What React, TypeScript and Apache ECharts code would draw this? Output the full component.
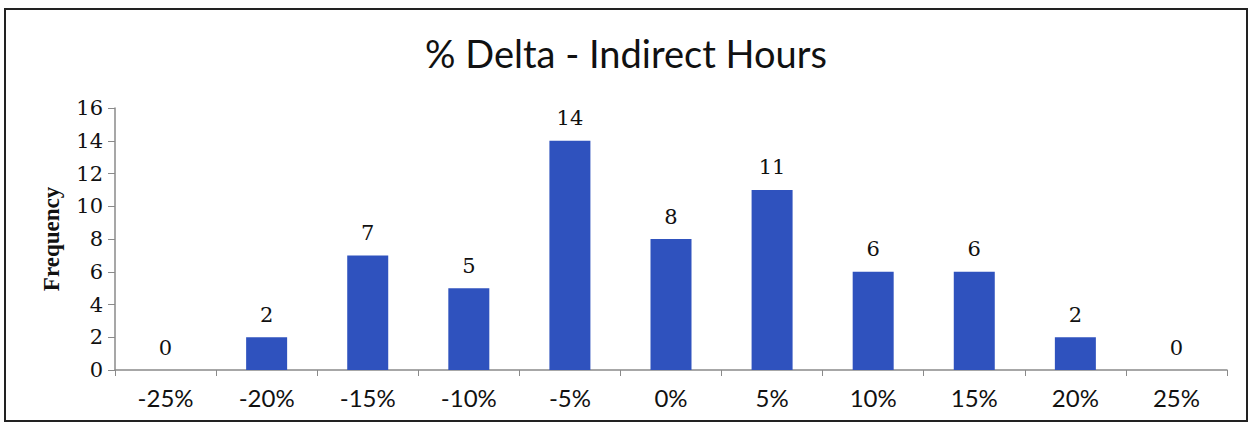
import React, { useEffect, useRef } from "react";
import * as echarts from "echarts";

const categories = ["-25%", "-20%", "-15%", "-10%", "-5%", "0%", "5%", "10%", "15%", "20%", "25%"];
const frequency = [0, 2, 7, 5, 14, 8, 11, 6, 6, 2, 0];
const titleText = "% Delta - Indirect Hours";
const yAxisName = "Frequency";

export default function App() {
  const ref = useRef<HTMLDivElement>(null);
  useEffect(() => {
    if (!ref.current) return;
    const chart = echarts.init(ref.current, null, { renderer: "svg" });
    chart.setOption({
      animation: false,
      backgroundColor: "#ffffff",
      title: {
        text: titleText,
        left: "center",
        top: 29,
        textStyle: { fontFamily: "Lato", fontSize: 38, fontWeight: "normal", color: "#111" },
      },
      graphic: [
        {
          type: "rect",
          shape: { x: 5, y: 9, width: 1242, height: 412 },
          style: { fill: "none", stroke: "#222", lineWidth: 2 },
          silent: true,
        },
      ],
      grid: { left: 115, right: 25, top: 108, bottom: 56 },
      xAxis: {
        type: "category",
        data: categories,
        boundaryGap: true,
        axisLine: { lineStyle: { color: "#8a8a8a", width: 1.5 } },
        axisTick: { show: true, alignWithLabel: false, length: 6, lineStyle: { color: "#8a8a8a" } },
        axisLabel: { fontFamily: "Lato", fontSize: 24, color: "#111", margin: 15 },
      },
      yAxis: {
        type: "value",
        min: 0,
        max: 16,
        interval: 2,
        name: yAxisName,
        nameLocation: "middle",
        nameGap: 52,
        nameTextStyle: { fontFamily: "Liberation Serif", fontWeight: "bold", fontSize: 23, color: "#111" },
        axisLine: { show: true, lineStyle: { color: "#8a8a8a", width: 1.5 } },
        axisTick: { show: true, length: 7, lineStyle: { color: "#8a8a8a" } },
        splitLine: { show: false },
        axisLabel: { fontFamily: "DejaVu Serif", fontSize: 21, color: "#111", margin: 12 },
      },
      series: [
        {
          type: "bar",
          data: frequency,
          barWidth: 41,
          itemStyle: { color: "#2f52be" },
          label: {
            show: true,
            position: "top",
            distance: 12,
            fontFamily: "DejaVu Serif",
            fontSize: 21,
            color: "#111",
          },
        },
      ],
    });
    return () => chart.dispose();
  }, []);
  return <div ref={ref} style={{ position: "fixed", left: 0, top: 0, width: 1252, height: 426 }} />;
}
